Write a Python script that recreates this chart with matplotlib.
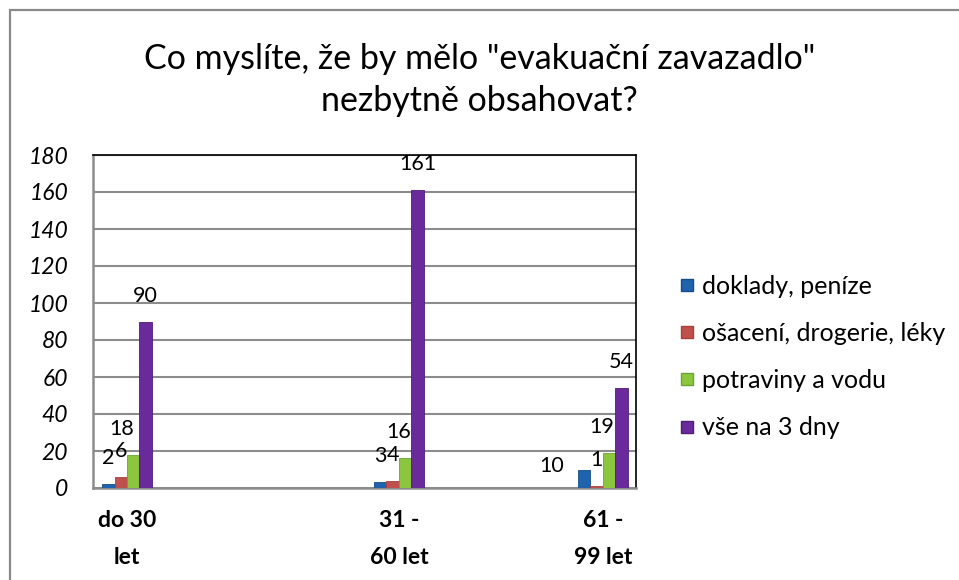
import numpy as np
import matplotlib.pyplot as plt
from matplotlib.patches import Rectangle
from matplotlib.lines import Line2D

plt.rcParams['font.family'] = ['Lato', 'DejaVu Sans']

# data
categories = ['do 30\nlet', '31 -\n60 let', '61 -\n99 let']
series_names = ['doklady, peníze', 'ošacení, drogerie, léky',
                'potraviny a vodu', 'vše na 3 dny']
doklady = [2, 3, 10]
osaceni = [6, 4, 1]
potraviny = [18, 16, 19]
vse = [90, 161, 54]
y_ticks = list(range(0, 181, 20))

series = [doklady, osaceni, potraviny, vse]
colors = ['#1f62ad', '#c0504d', '#8cc63f', '#6a2a9c']
edges = ['#164d8a', '#a8403d', '#6aa534', '#4e1c7a']

# group centres in axis fraction (the original spacing is irregular)
group_x = [0.0626, 0.5635, 0.939]
bar_w = 0.023

fig = plt.figure(figsize=(9.59, 5.8), dpi=100)
ax = fig.add_axes([93 / 959, 1 - 488 / 580, 543 / 959, 333 / 580])

# outer chart border (only top and left visible)
fig.patches.append(Rectangle((10 / 959, -0.1), 1.2, 1 - 10 / 580 + 0.1,
                             transform=fig.transFigure, fill=False,
                             edgecolor='#8a8a8a', lw=1.6))

for i, vals in enumerate(series):
    xs = np.array(group_x) + (i - 1.5) * bar_w
    ax.bar(xs, vals, width=bar_w, color=colors[i], edgecolor=edges[i],
           lw=0.6, zorder=3, label=series_names[i])
    for j, v in enumerate(vals):
        dx = 0
        dy = 26
        # manual nudges, some labels were moved in the original
        if i == 2:
            dx = -12 if j == 0 else -7
        if i == 0 and j == 2:
            dx, dy = -32, 4
        ax.annotate(str(v), (xs[j], v), xytext=(dx * 0.72, dy * 0.72),
                    textcoords='offset points', ha='center', va='center',
                    fontsize=15.5, color='black', zorder=4)

ax.set_xlim(0, 1)
ax.set_ylim(0, 180)
ax.set_yticks(y_ticks)
ax.set_yticklabels([str(t) for t in y_ticks], fontstyle='italic', fontsize=16.5)
ax.set_xticks(group_x)
ax.set_xticklabels(categories, fontweight='bold', fontsize=16.5, linespacing=1.9)
ax.tick_params(axis='y', length=0, pad=18)
ax.tick_params(axis='x', length=0, pad=16)

ax.grid(axis='y', color='#8c8c8c', lw=1.5, zorder=0)
ax.set_axisbelow(True)
ax.spines['left'].set_color('#8c8c8c')
ax.spines['bottom'].set_color('#8c8c8c')
ax.spines['left'].set_linewidth(1.8)
ax.spines['bottom'].set_linewidth(1.8)
ax.spines['top'].set_color('black')
ax.spines['right'].set_color('black')
ax.spines['top'].set_linewidth(1.2)
ax.spines['right'].set_linewidth(1.2)

fig.text(0.5, 1 - 80 / 580, 'Co myslíte, že by mělo "evakuační zavazadlo"\nnezbytně obsahovat?',
         ha='center', va='center', fontsize=24.5, linespacing=1.4)

handles = [Line2D([], [], marker='s', ls='', markersize=8.5, markerfacecolor=c,
                  markeredgecolor=e) for c, e in zip(colors, edges)]
fig.legend(handles, series_names, loc='center left',
           bbox_to_anchor=(669 / 959, 1 - 357 / 580), frameon=False,
           fontsize=18, labelspacing=0.97, handlelength=0.6, handletextpad=0.3,
           borderaxespad=0)

fig.savefig('out.png', dpi=100)
